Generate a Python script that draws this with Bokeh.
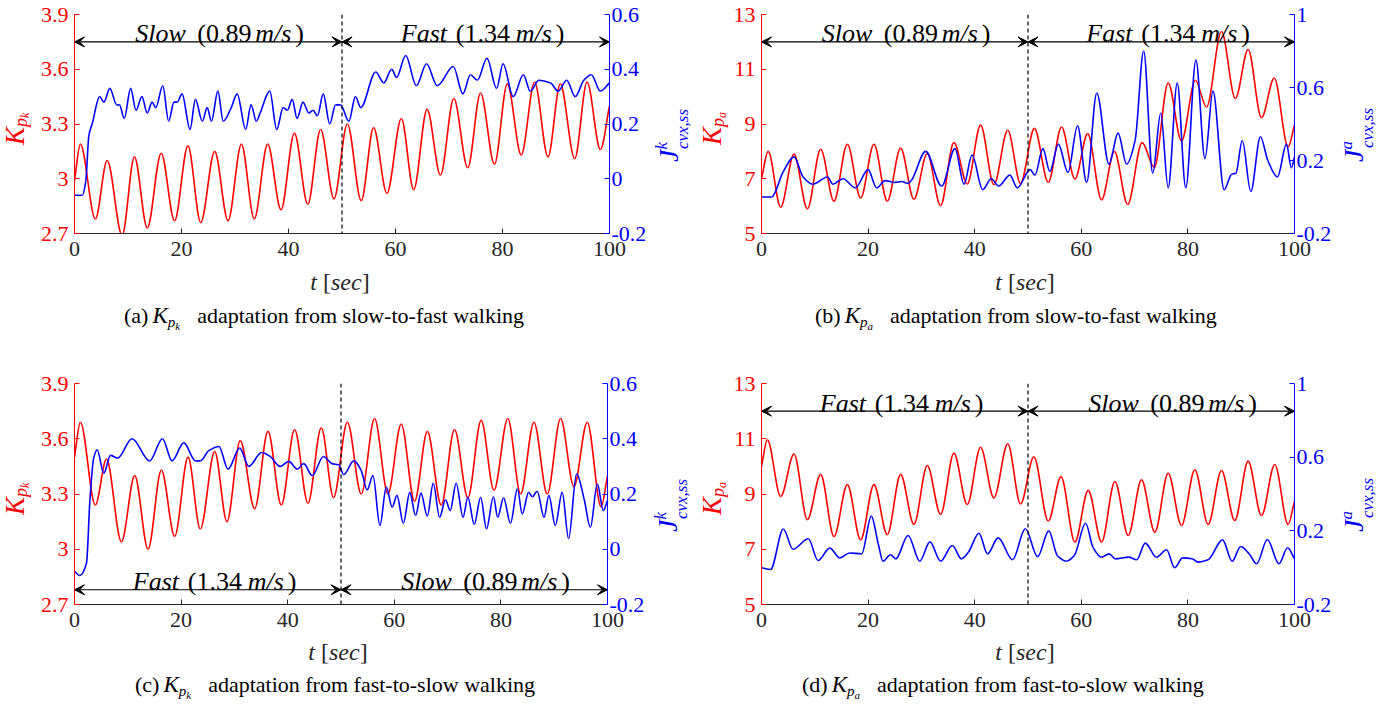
import numpy as np
from bokeh.plotting import figure
from bokeh.models import (Range1d, LinearAxis, FixedTicker, PrintfTickFormatter,
                          Span, Arrow, VeeHead, Label, Div)
from bokeh.layouts import column, row
from bokeh.embed import file_html
from bokeh.resources import INLINE

# ---------------- data ----------------
x_ticks = [0, 20, 40, 60, 80, 100]
k_left_ticks = [2.7, 3.0, 3.3, 3.6, 3.9]
k_right_ticks = [-0.2, 0.0, 0.2, 0.4, 0.6]
a_left_ticks = [5, 7, 9, 11, 13]
a_right_ticks = [-0.2, 0.2, 0.6, 1.0]

# (a) K_pk, slow -> fast
a_red_t = [0, 1.1, 3.9, 6.1, 8.9, 11.2, 13.6, 16.2, 18.7, 21.2, 23.6, 26.2, 28.7, 31.2, 33.6,
           36.1, 38.6, 41.1, 43.6, 46.0, 48.5, 51.0, 53.6, 55.9, 58.4, 61.1, 63.4, 65.9, 68.4,
           70.9, 73.5, 75.9, 78.5, 80.9, 83.5, 86.0, 88.5, 90.8, 93.5, 95.8, 98.3, 100]
a_red_v = [2.99, 3.19, 2.78, 3.10, 2.69, 3.12, 2.73, 3.14, 2.77, 3.18, 2.76, 3.15, 2.77, 3.19, 2.78,
           3.19, 2.83, 3.25, 2.86, 3.27, 2.89, 3.30, 2.88, 3.28, 2.92, 3.33, 2.94, 3.38, 3.02,
           3.44, 3.06, 3.47, 3.08, 3.52, 3.13, 3.53, 3.12, 3.52, 3.11, 3.53, 3.16, 3.40]
a_blue_t = [0, 1.5, 2.1, 2.7, 3.3, 4.7, 5.5, 6.6, 7.9, 8.4, 9.3, 10.5, 11.5, 12.6, 13.6, 14.5,
            15.2, 16.5, 17.6, 18.6, 19.2, 20.1, 21.6, 22.6, 23.9, 24.8, 25.6, 26.8, 27.8, 29.3,
            30.4, 32.0, 33.0, 34.0, 34.7, 36.5, 37.8, 39.0, 39.8, 40.7, 41.6, 42.7, 43.8, 44.6,
            45.4, 46.5, 47.7, 48.8, 49.7, 51.3, 52.5, 53.5, 56.3, 57.8, 59.3, 60.2, 61.9, 63.9,
            65.8, 67.8, 70.8, 72.6, 74.0, 75.3, 77.1, 78.9, 80.1, 82.0, 83.9, 85.2, 86.8, 89.0,
            90.4, 92.0, 93.6, 95.2, 96.6, 98.3, 100]
a_blue_v = [-0.06, -0.06, -0.01, 0.16, 0.20, 0.30, 0.28, 0.33, 0.27, 0.27, 0.22, 0.33, 0.25, 0.30,
            0.24, 0.28, 0.26, 0.34, 0.21, 0.28, 0.28, 0.31, 0.18, 0.29, 0.21, 0.26, 0.21, 0.32,
            0.21, 0.26, 0.31, 0.18, 0.27, 0.21, 0.24, 0.32, 0.18, 0.26, 0.25, 0.29, 0.22, 0.28,
            0.24, 0.25, 0.23, 0.31, 0.20, 0.27, 0.27, 0.21, 0.30, 0.26, 0.39, 0.35, 0.40, 0.37,
            0.45, 0.34, 0.42, 0.34, 0.41, 0.31, 0.38, 0.36, 0.44, 0.33, 0.42, 0.30, 0.38, 0.32,
            0.36, 0.35, 0.32, 0.36, 0.30, 0.36, 0.38, 0.32, 0.35]

# (b) K_pa, slow -> fast
b_red_t = [0, 1.25, 3.6, 6.1, 8.6, 11.1, 13.6, 16.1, 18.6, 21.1, 23.6, 26.1, 28.6, 31.1, 33.6,
           36.1, 38.6, 41.1, 43.6, 46.2, 48.6, 51.2, 53.8, 56.3, 58.8, 61.2, 63.8, 66.2, 68.7,
           71.4, 73.7, 76.3, 78.8, 81.4, 83.5, 86.3, 88.9, 91.3, 93.8, 96.2, 98.8, 100]
b_red_v = [7.0, 8.0, 5.96, 7.9, 5.90, 8.08, 6.18, 8.26, 6.30, 8.26, 6.18, 8.12, 6.25, 7.92, 6.02,
           8.32, 6.81, 8.96, 6.78, 8.77, 6.83, 8.84, 6.87, 8.89, 6.99, 8.65, 6.23, 8.0, 6.06,
           8.32, 7.41, 10.50, 8.38, 10.60, 9.62, 12.38, 9.93, 11.72, 9.23, 10.68, 8.16, 8.96]
b_blue_t = [0, 1.9, 4.1, 6.1, 7.8, 9.6, 12.4, 13.4, 15.3, 17.6, 20.0, 21.6, 23.2, 25.0, 26.3,
            27.5, 28.1, 30.8, 33.8, 36.3, 38.0, 39.5, 41.5, 43.1, 44.5, 46.6, 48.0, 50.4, 51.3,
            52.8, 54.1, 55.7, 57.5, 59.3, 61.0, 62.9, 65.2, 66.9, 68.5, 70.1, 71.7, 73.4, 74.9,
            76.3, 78.0, 79.6, 81.5, 83.2, 84.7, 86.8, 88.2, 89.0, 90.2, 91.8, 93.6, 95.0, 96.8,
            98.5, 99.4, 100]
b_blue_v = [0.0, 0.0, 0.14, 0.22, 0.11, 0.07, 0.11, 0.07, 0.10, 0.05, 0.15, 0.05, 0.09, 0.08,
            0.085, 0.075, 0.09, 0.25, 0.06, 0.265, 0.07, 0.23, 0.04, 0.10, 0.06, 0.12, 0.05,
            0.15, 0.12, 0.265, 0.14, 0.29, 0.135, 0.39, 0.08, 0.57, 0.18, 0.35, 0.18, 0.31,
            0.80, 0.13, 0.46, 0.05, 0.625, 0.05, 0.75, 0.21, 0.58, 0.04, 0.125, 0.13, 0.31,
            0.03, 0.33, 0.20, 0.11, 0.29, 0.16, 0.22]

# (c) K_pk, fast -> slow
c_red_t = [0, 1.1, 3.9, 6.0, 8.8, 11.3, 13.8, 16.3, 18.8, 21.3, 23.6, 26.3, 28.6, 31.1, 33.8,
           36.3, 38.8, 41.3, 43.8, 46.3, 48.6, 51.2, 53.8, 56.3, 58.8, 61.3, 63.8, 66.2, 68.8,
           71.3, 73.8, 76.3, 78.7, 81.3, 83.7, 86.2, 88.7, 91.2, 93.7, 96.2, 98.8, 100]
c_red_v = [3.50, 3.69, 3.24, 3.49, 3.04, 3.40, 3.00, 3.43, 3.07, 3.50, 3.11, 3.53, 3.15, 3.59,
           3.22, 3.64, 3.24, 3.65, 3.25, 3.66, 3.28, 3.69, 3.30, 3.71, 3.30, 3.68, 3.26, 3.64,
           3.24, 3.65, 3.28, 3.70, 3.32, 3.71, 3.30, 3.69, 3.30, 3.71, 3.34, 3.69, 3.23, 3.40]
c_blue_t = [0, 1.0, 2.25, 2.9, 3.6, 4.25, 5.5, 6.75, 8.1, 10.8, 14.1, 16.5, 18.3, 20.5, 22.7,
            23.6, 25.2, 27.1, 28.8, 31.0, 32.7, 35.1, 36.7, 38.6, 40.2, 41.8, 43.0, 44.6, 46.7,
            48.3, 49.6, 50.5, 52.4, 53.8, 54.9, 56.0, 57.3, 58.5, 59.6, 60.5, 61.7, 62.9, 64.0,
            65.0, 66.2, 67.3, 68.5, 69.6, 70.5, 71.6, 72.9, 73.8, 75.0, 76.2, 77.3, 78.6, 79.4,
            80.5, 81.8, 83.1, 84.0, 85.2, 85.9, 86.8, 88.1, 89.0, 90.2, 91.5, 92.7, 94.2, 95.6,
            96.8, 98.1, 99.2, 100]
c_blue_v = [-0.08, -0.095, -0.05, 0.18, 0.33, 0.36, 0.275, 0.34, 0.33, 0.40, 0.32, 0.40, 0.32,
            0.385, 0.32, 0.32, 0.357, 0.372, 0.29, 0.366, 0.30, 0.35, 0.336, 0.30, 0.318, 0.29,
            0.31, 0.267, 0.336, 0.31, 0.305, 0.27, 0.32, 0.285, 0.215, 0.267, 0.086, 0.225,
            0.152, 0.195, 0.094, 0.206, 0.122, 0.203, 0.12, 0.239, 0.116, 0.179, 0.14, 0.239,
            0.116, 0.188, 0.09, 0.188, 0.074, 0.19, 0.116, 0.186, 0.094, 0.219, 0.128, 0.206,
            0.19, 0.21, 0.116, 0.195, 0.086, 0.206, 0.038, 0.273, 0.183, 0.08, 0.237, 0.14, 0.176]

# (d) K_pa, fast -> slow
d_red_t = [0, 1.1, 3.6, 6.1, 8.6, 11.1, 13.6, 16.1, 18.6, 21.1, 23.6, 26.1, 28.6, 31.1, 33.6,
           36.1, 38.6, 41.1, 43.6, 46.2, 48.6, 51.1, 53.8, 56.2, 58.8, 61.3, 63.8, 66.3, 68.8,
           71.3, 73.8, 76.3, 78.8, 81.3, 83.8, 86.3, 88.8, 91.3, 93.8, 96.3, 98.8, 100]
d_red_v = [10.0, 10.96, 8.91, 10.45, 8.07, 9.71, 7.46, 9.34, 7.34, 9.34, 7.53, 9.71, 7.90, 10.03,
           8.26, 10.48, 8.62, 10.69, 8.86, 10.82, 8.64, 10.35, 8.02, 9.63, 7.26, 9.13, 7.26, 9.45,
           7.50, 9.51, 7.62, 9.75, 7.86, 9.88, 7.90, 9.85, 8.04, 10.19, 8.22, 10.07, 7.90, 8.74]
d_blue_t = [0, 1.7, 4.1, 5.9, 8.8, 10.6, 12.8, 14.7, 16.5, 18.8, 20.6, 21.9, 22.8, 24.2, 25.2,
            27.5, 29.7, 31.6, 33.6, 35.8, 37.5, 38.8, 40.8, 42.4, 44.4, 47.1, 49.5, 51.8, 53.9,
            55.5, 57.2, 58.7, 60.8, 62.2, 63.8, 65.2, 66.4, 68.9, 70.4, 72.0, 74.1, 76.0, 77.5,
            79.0, 80.8, 81.9, 83.8, 86.5, 88.3, 89.9, 91.5, 92.9, 94.9, 97.1, 98.7, 100]
d_blue_v = [0.0, -0.01, 0.21, 0.10, 0.157, 0.039, 0.106, 0.053, 0.08, 0.075, 0.28, 0.13, 0.035,
            0.07, 0.048, 0.175, 0.035, 0.14, 0.035, 0.12, 0.048, 0.083, 0.187, 0.075, 0.162,
            0.043, 0.211, 0.06, 0.20, 0.066, 0.035, 0.066, 0.241, 0.11, 0.057, 0.075, 0.048,
            0.057, 0.043, 0.133, 0.057, 0.097, 0.0, 0.053, 0.048, 0.03, 0.043, 0.151, 0.035,
            0.115, 0.075, 0.021, 0.153, 0.021, 0.108, 0.048]

# ---------------- styling ----------------
SERIF = "Liberation Serif"
RED = "#ff0000"
BLUE = "#0000ff"
DARK = "#262626"
BASE = 0.8375  # baseline position (in em) of Liberation Serif with line-height 1


def smooth_segments(t, v):
    """Shape-preserving cubic (Bezier) segments through the read points."""
    x = np.asarray(t, float)
    y = np.asarray(v, float)
    h = np.diff(x)
    d = np.diff(y) / h
    n = len(x)
    m = np.zeros(n)
    m[0] = d[0]
    m[-1] = d[-1]
    for k in range(1, n - 1):
        if d[k - 1] * d[k] > 0:
            w1 = 2 * h[k] + h[k - 1]
            w2 = h[k] + 2 * h[k - 1]
            m[k] = (w1 + w2) / (w1 / d[k - 1] + w2 / d[k])
    return dict(x0=x[:-1], y0=y[:-1], x1=x[1:], y1=y[1:],
                cx0=x[:-1] + h / 3, cy0=y[:-1] + m[:-1] * h / 3,
                cx1=x[1:] - h / 3, cy1=y[1:] - m[1:] * h / 3)


def lab(p, x, y, text, xo=0, yo=0, size="22px", italic=False, color="black"):
    p.add_layout(Label(x=x, y=y, x_offset=xo, y_offset=yo, text=text,
                       text_font=SERIF, text_font_size=size,
                       text_font_style="italic" if italic else "normal",
                       text_color=color, text_align="left",
                       text_baseline="alphabetic"))


def speed_text(p, tc, y, word, num, offs):
    lab(p, tc, y, word, offs[0], 8, "26px", True)
    lab(p, tc, y, "(" + num, offs[1], 8, "26px")
    lab(p, tc, y, "m/s", offs[2], 8, "26px", True)
    lab(p, tc, y, ")", offs[3], 8, "26px")


def style_axis(ax, color, standoff):
    ax.axis_label = None
    ax.axis_label_standoff = 0
    ax.axis_line_color = color
    ax.major_tick_line_color = color
    ax.major_tick_in = 5
    ax.major_tick_out = 0
    ax.minor_tick_line_color = None
    ax.major_label_text_font = SERIF
    ax.major_label_text_font_size = "22px"
    ax.major_label_text_color = color
    ax.major_label_standoff = standoff


def make_fig(W, H, bl, br, bt, bb, yl, yr, lt, rt, red_t, red_v, blue_t, blue_v,
             arrow_y, first, second):
    p = figure(width=W, height=H, x_range=Range1d(0, 100), y_range=Range1d(*yl),
               output_backend="svg", toolbar_location=None, title=None,
               min_border_left=bl, min_border_right=br, min_border_top=bt,
               min_border_bottom=bb, margin=(0, 0, 0, 0))
    p.extra_y_ranges = {"r": Range1d(*yr)}
    p.outline_line_color = None
    p.xgrid.visible = False
    p.ygrid.visible = False

    xa = p.xaxis[0]
    xa.ticker = FixedTicker(ticks=x_ticks)
    style_axis(xa, DARK, 8)

    ya = p.yaxis[0]
    ya.ticker = FixedTicker(ticks=lt)
    ya.formatter = PrintfTickFormatter(format="%g")
    style_axis(ya, RED, 6)

    ra = LinearAxis(y_range_name="r", ticker=FixedTicker(ticks=rt),
                    formatter=PrintfTickFormatter(format="%g"))
    style_axis(ra, BLUE, 2)
    p.add_layout(ra, "right")

    p.bezier(line_color=RED, line_width=1.6, **smooth_segments(red_t, red_v))
    p.bezier(line_color=BLUE, line_width=1.6, y_range_name="r",
             **smooth_segments(blue_t, blue_v))

    p.add_layout(Span(location=50, dimension="height", line_color="black",
                      line_dash="4 3", line_width=1.2))
    for xs, xe in ((0, 50), (50, 100)):
        p.add_layout(Arrow(x_start=xs, y_start=arrow_y, x_end=xe, y_end=arrow_y,
                           line_color="black", line_width=1.2,
                           start=VeeHead(size=10, fill_color="black", line_color="black"),
                           end=VeeHead(size=10, fill_color="black", line_color="black")))
    slow_offs = (-73, -11, 47, 87)
    fast_offs = (-75, -20, 40, 80)
    for tc, (word, num) in ((25, first), (75, second)):
        speed_text(p, tc, arrow_y, word, num, slow_offs if word == "Slow" else fast_offs)
    return p


def rot_html(inner, color, fs, base_x, start_y):
    a = base_x - BASE * fs
    return ('<div style="position:relative;width:100%;height:100%;">'
            f'<div style="position:absolute;left:0;top:0;transform-origin:0 0;'
            f'transform:translate({a:.1f}px,{start_y}px) rotate(-90deg);white-space:nowrap;'
            f"font-family:'{SERIF}';font-size:{fs}px;line-height:{fs}px;color:{color};\">"
            f'{inner}</div></div>')


def k_label(sub2):
    return ('<i>K</i><span style="position:relative;top:3px;font-size:18px;line-height:18px;">'
            '<i>p</i><span style="position:relative;top:2px;font-size:12px;line-height:12px;">'
            f'<i>{sub2}</i></span></span>')


def j_label(sup):
    return ('<i>J</i><span style="position:relative;top:-11px;font-size:17px;line-height:17px;">'
            f'<i>{sup}</i></span><span style="position:relative;top:10px;font-size:17px;'
            'line-height:17px;margin-left:-7px;"><i>cvx,ss</i></span>')


def bottom_html(W, H, cx, xl_top, cap_top, cap_left, letter, sub2, text):
    cap = (f'({letter})<i style="margin-left:4px;font-size:23px;">K</i>'
           '<span style="position:relative;top:4px;font-size:15px;line-height:15px;"><i>p</i>'
           '<span style="position:relative;top:3px;font-size:11px;line-height:11px;">'
           f'<i>{sub2}</i></span></span>'
           f'<span style="margin-left:17px;">{text}</span>')
    return (f'<div style="position:relative;width:{W}px;height:{H}px;'
            f"font-family:'{SERIF}';\">"
            f'<div style="position:absolute;left:{cx - 152}px;width:300px;top:{xl_top}px;'
            f'text-align:center;font-size:24px;line-height:24px;white-space:nowrap;color:{DARK};">'
            '<i>t</i>&nbsp;[<i>sec</i>]</div>'
            f'<div style="position:absolute;left:{cap_left}px;top:{cap_top}px;'
            'font-size:22px;line-height:22px;white-space:nowrap;color:#000;">'
            f'{cap}</div></div>')


def div(html, w, h):
    return Div(text=html, width=w, height=h, margin=(0, 0, 0, 0),
               styles={"overflow": "visible"})


def panel(lw, bl, frame_w, br, rw, fh, bt, bb, rest, bh, sub2, letter, text,
          k_base, k_start, j_base, j_start, xl_top, cap_top, cap_left):
    fw = bl + frame_w + br
    p = make_fig(fw, fh, bl, br, bt, bb, *rest)
    left = div(rot_html(k_label(sub2), RED, 27, k_base, k_start), lw, fh)
    right = div(rot_html(j_label(sub2), BLUE, 28, j_base, j_start), rw, fh)
    W = lw + fw + rw
    cx = int(round(lw + bl + frame_w / 2))
    bottom = div(bottom_html(W, bh, cx, xl_top, cap_top, cap_left, letter, sub2, text), W, bh)
    return column(row(left, p, right), bottom)


pa = panel(36, 38, 535, 42, 46, 269, 14, 36,
           ((2.7, 3.9), (-0.2, 0.6), k_left_ticks, k_right_ticks,
            a_red_t, a_red_v, a_blue_t, a_blue_v, 3.75, ("Slow", "0.89 "), ("Fast", "1.34 ")),
           89, "k", "a", "adaptation from slow-to-fast walking",
           25, 133, 27, 150, 1, 36, 124)
pb = panel(32, 32, 533, 42, 58, 269, 14, 36,
           ((5, 13), (-0.2, 1.0), a_left_ticks, a_right_ticks,
            b_red_t, b_red_v, b_blue_t, b_blue_v, 12, ("Slow", "0.89 "), ("Fast", "1.34 ")),
           89, "a", "b", "adaptation from slow-to-fast walking",
           24.3, 133, 27, 150, 1, 36, 118)
pc = panel(36, 38, 533, 42, 48, 282, 25, 36,
           ((2.7, 3.9), (-0.2, 0.6), k_left_ticks, k_right_ticks,
            c_red_t, c_red_v, c_blue_t, c_blue_v, 2.78, ("Fast", "1.34 "), ("Slow", "0.89 ")),
           62, "k", "c", "adaptation from fast-to-slow walking",
           25, 145, 28, 162, 0, 34, 135)
pd = panel(32, 32, 533, 42, 58, 282, 25, 36,
           ((5, 13), (-0.2, 1.0), a_left_ticks, a_right_ticks,
            d_red_t, d_red_v, d_blue_t, d_blue_v, 12, ("Fast", "1.34 "), ("Slow", "0.89 ")),
           62, "a", "d", "adaptation from fast-to-slow walking",
           24.3, 145, 27, 162, 0, 34, 105)

layout = column(row(pa, pb), row(pc, pd))
open("out.html", "w").write(file_html(layout, INLINE))
